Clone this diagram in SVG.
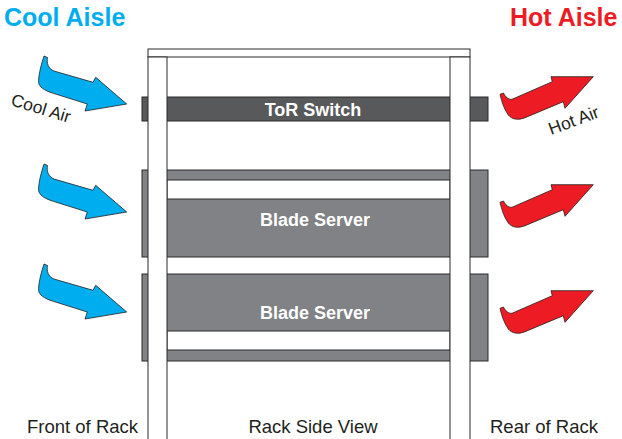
<svg xmlns="http://www.w3.org/2000/svg" xmlns:xlink="http://www.w3.org/1999/xlink" width="622" height="439" viewBox="0 0 622 439">
<style>
.lbl{font-family:"Liberation Sans",Arial,sans-serif;fill:#231f20;font-size:18.5px}
.air{font-family:"Liberation Sans",Arial,sans-serif;fill:#231f20;font-size:17.5px}
.hdr{font-family:"Liberation Sans",Arial,sans-serif;font-weight:bold;font-size:25px}
.srv{font-family:"Liberation Sans",Arial,sans-serif;font-weight:bold;font-size:18px;fill:#ffffff;text-anchor:middle}
.edge{stroke:#2b2b2b;stroke-width:1}
.post{fill:#ffffff;stroke:#2b2b2b;stroke-width:1}
.blade{fill:#808285}
.slot{fill:#ffffff;stroke:#2b2b2b;stroke-width:1}
.cool{fill:#00aeef;stroke:#231f20;stroke-width:0.8;stroke-linejoin:miter}
.hot{fill:#ed1c24;stroke:#231f20;stroke-width:0.8;stroke-linejoin:miter}
</style>
<defs>
<path id="blueArrow" d="M 44,56 L 47.5,57.5 C 46.5,63 48,68.5 54,71 L 93,82.3 L 95.7,77.3 L 126.7,104 L 85,111 L 87.3,104 L 53.3,93.3 C 44,90.5 38,86.5 38.5,80.5 C 39,72 41.5,64 44,56 Z"/>
<path id="redArrow" d="M 500,94.3 L 503.5,93 C 505.5,97 508,99.5 512,99.3 L 552.3,81.7 L 551,76.7 L 593.3,76.7 L 565,108.3 L 563.3,101.7 L 525,117.7 C 518,120.5 512,119.5 508.3,115 C 504,109 501.5,101 500,94.3 Z"/>
</defs>
<rect width="622" height="439" fill="#ffffff"/>

<text class="hdr" x="4" y="26" fill="#00aeef">Cool Aisle</text>
<text class="hdr" x="510" y="26" fill="#ed1c24">Hot Aisle</text>

<g id="tor-switch">
<rect x="142" y="97" width="346" height="24" fill="#58595b" class="edge"/>
<text class="srv" x="313" y="116">ToR Switch</text>
</g>

<g id="blade-server-1">
<rect x="142" y="170" width="346" height="87" class="blade edge"/>
<rect x="167" y="180" width="283" height="19" class="slot"/>
<text class="srv" x="315" y="226">Blade Server</text>
</g>

<g id="blade-server-2">
<rect x="142" y="274" width="346" height="87" class="blade edge"/>
<rect x="167" y="331" width="283" height="19" class="slot"/>
<text class="srv" x="315" y="319">Blade Server</text>
</g>

<g id="rack">
<rect x="148" y="49" width="322" height="8" class="post"/>
<rect x="148" y="57" width="19" height="390" class="post"/>
<rect x="450" y="57" width="20" height="390" class="post"/>
</g>

<g id="connectors">
<use xlink:href="#blueArrow" class="cool"/>
<use xlink:href="#blueArrow" class="cool" transform="translate(0,108)"/>
<use xlink:href="#blueArrow" class="cool" transform="translate(0,208)"/>
<use xlink:href="#redArrow" class="hot"/>
<use xlink:href="#redArrow" class="hot" transform="translate(0,108)"/>
<use xlink:href="#redArrow" class="hot" transform="translate(0,214)"/>
</g>

<text class="air" x="10" y="105" transform="rotate(17 10 105)">Cool Air</text>
<text class="air" x="551" y="135" transform="rotate(-20 551 135)">Hot Air</text>

<text class="lbl" x="27" y="433">Front of Rack</text>
<text class="lbl" x="313" y="433" text-anchor="middle">Rack Side View</text>
<text class="lbl" x="490" y="433">Rear of Rack</text>
</svg>
